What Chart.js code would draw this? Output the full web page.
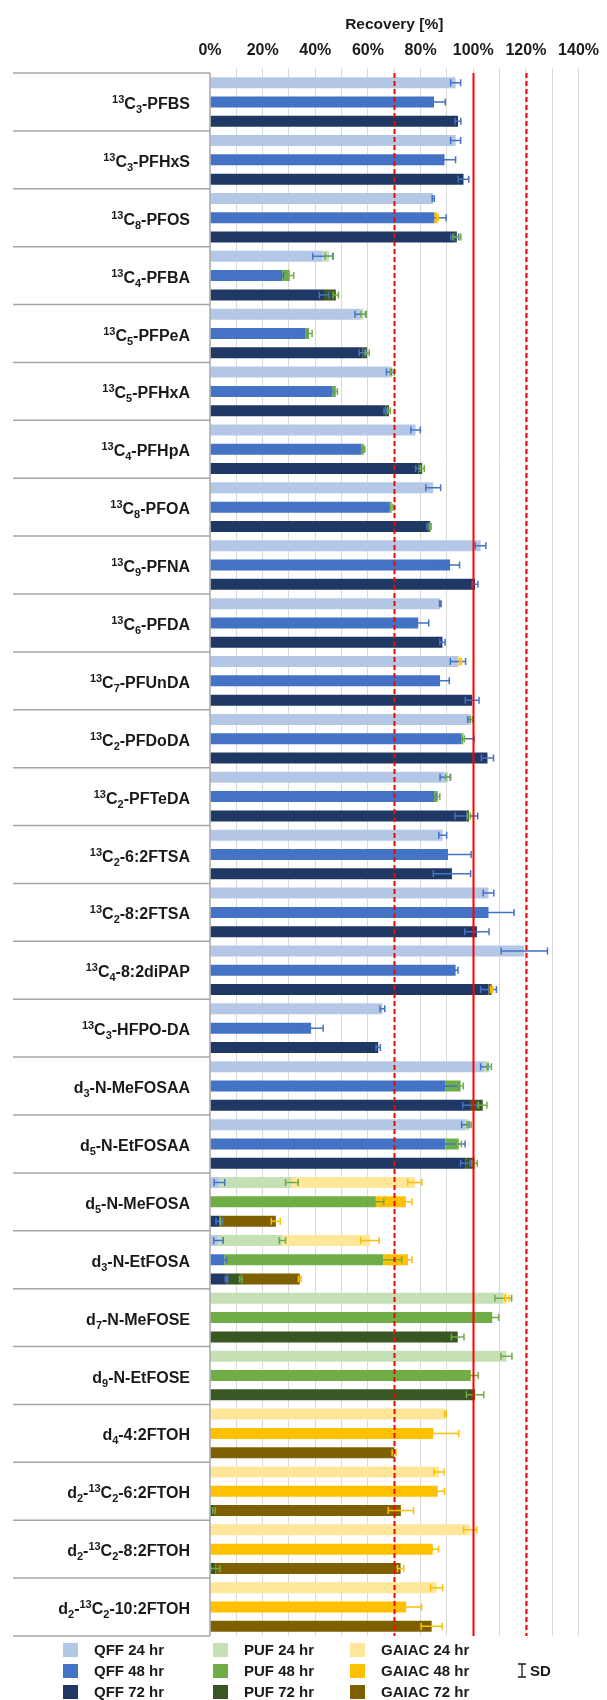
<!DOCTYPE html>
<html lang="en">
<head>
<meta charset="UTF-8">
<title>Recovery [%]</title>
<script src="https://cdn.jsdelivr.net/npm/chart.js"></script>
<style>
  html, body { margin: 0; padding: 0; background: #fff; }
  #wrap { width: 607px; height: 1700px; }
</style>
</head>
<body>
<div id="wrap"><canvas id="chart" width="607" height="1700"></canvas></div>
<script>
// categories (top to bottom)
const categories = [
  '¹³C₃-PFBS', '¹³C₃-PFHxS', '¹³C₈-PFOS', '¹³C₄-PFBA', '¹³C₅-PFPeA', '¹³C₅-PFHxA',
  '¹³C₄-PFHpA', '¹³C₈-PFOA', '¹³C₉-PFNA', '¹³C₆-PFDA', '¹³C₇-PFUnDA', '¹³C₂-PFDoDA',
  '¹³C₂-PFTeDA', '¹³C₂-6:2FTSA', '¹³C₂-8:2FTSA', '¹³C₄-8:2diPAP', '¹³C₃-HFPO-DA',
  'd₃-N-MeFOSAA', 'd₅-N-EtFOSAA', 'd₅-N-MeFOSA', 'd₃-N-EtFOSA', 'd₇-N-MeFOSE',
  'd₉-N-EtFOSE', 'd₄-4:2FTOH', 'd₂-¹³C₂-6:2FTOH', 'd₂-¹³C₂-8:2FTOH', 'd₂-¹³C₂-10:2FTOH'
];

// recovery (%) per sampler and exposure time, with SD
const qff24   = [93.3, 93.3, 84.8, 42.8, 57.1, 68.0, 78.1, 84.8, 102.8, 87.5, 94.2, 98.4, 89.4, 88.4, 105.8, 119.4, 65.5, 104.2, 97.0, 3.6, 3.2, 0, 0, 0, 0, 0, 0];
const qff24Sd = [1.9, 1.9, 0.4, 3.8, 2.0, 1.0, 1.8, 2.8, 2.0, 0.3, 2.9, 0.5, 2.0, 1.5, 2.0, 8.8, 0.9, 1.4, 1.4, 2.0, 1.8, 0, 0, 0, 0, 0, 0];
const qff48   = [85.1, 89.1, 85.2, 27.4, 36.2, 46.5, 57.5, 68.0, 91.2, 79.1, 87.4, 95.5, 85.1, 90.4, 105.8, 93.3, 38.4, 89.4, 89.4, 0, 5.4, 0, 0, 0, 0, 0, 0];
const qff48Sd = [4.3, 4.2, 4.5, 0.5, 0.5, 0.5, 0.5, 0.5, 3.6, 4.0, 3.5, 4.8, 1.0, 8.8, 9.7, 0.9, 4.6, 5.0, 7.5, 0, 1.0, 0, 0, 0, 0, 0, 0];
const qff72   = [94.2, 96.3, 93.0, 43.3, 58.0, 66.7, 79.1, 82.9, 100.7, 88.3, 99.6, 105.4, 97.4, 91.9, 101.4, 105.8, 63.9, 98.8, 97.0, 3.6, 6.3, 0, 0, 0, 0, 0, 0];
const qff72Sd = [1.1, 2.0, 1.5, 1.8, 1.3, 0.6, 1.0, 0.5, 1.1, 1.0, 2.6, 2.3, 4.3, 7.1, 4.6, 3.0, 0.8, 2.8, 1.8, 1.3, 0.5, 0, 0, 0, 0, 0, 0];

const puf24   = [0, 0, 0, 2.5, 1.2, 1.2, 0, 0, 0, 0, 0, 0.9, 1.0, 0, 0, 0, 0, 1.9, 1.4, 27.5, 24.3, 111.4, 112.6, 0, 0, 0, 0];
const puf24Sd = [0, 0, 0, 1.5, 1.0, 0.8, 0, 0, 0, 0, 0, 0.5, 0.8, 0, 0, 0, 0, 0.8, 0.8, 2.4, 1.2, 3.2, 2.1, 0, 0, 0, 0];
const puf48   = [0, 0, 0, 2.9, 1.4, 1.3, 0.9, 1.0, 0, 0, 0, 0.7, 1.4, 0, 0, 0, 0, 5.8, 5.1, 63.0, 60.4, 107.2, 99.1, 0, 0, 0, 0];
const puf48Sd = [0, 0, 0, 1.5, 1.2, 0.6, 0.4, 0.5, 0, 0, 0, 0.4, 0.8, 0, 0, 0, 0, 1.0, 1.0, 3.0, 7.0, 2.5, 2.8, 0, 0, 0, 0];
const puf72   = [0, 0, 0.8, 4.5, 1.7, 1.3, 1.5, 0.8, 0, 0, 0, 0, 1.0, 0, 0, 0, 0, 4.8, 3.5, 0.3, 5.4, 94.1, 100.7, 0, 1.5, 2.0, 0];
const puf72Sd = [0, 0, 1.5, 1.0, 0.8, 0.5, 0.8, 0.3, 0, 0, 0, 0, 0.5, 0, 0, 0, 0, 1.6, 1.0, 0.2, 0.5, 2.4, 3.3, 0, 0.5, 1.8, 0];

const gaiac24   = [0, 0, 0, 0, 0, 0, 0, 0, 0, 0, 1.0, 0, 0, 0, 0, 0, 0, 0, 0, 46.7, 33.3, 1.4, 0, 89.4, 87.0, 98.8, 86.1];
const gaiac24Sd = [0, 0, 0, 0, 0, 0, 0, 0, 0, 0, 0.3, 0, 0, 0, 0, 0, 0, 0, 0, 2.7, 3.5, 0.8, 0, 0.3, 1.9, 2.5, 2.3];
const gaiac48   = [0, 0, 1.2, 0, 0, 0, 0, 0, 0, 0, 0, 0, 0, 0, 0, 0, 0, 0, 0, 11.4, 9.4, 0, 0, 84.8, 86.5, 84.6, 74.5];
const gaiac48Sd = [0, 0, 0.3, 0, 0, 0, 0, 0, 0, 0, 0, 0, 0, 0, 0, 0, 0, 0, 0, 2.3, 1.5, 0, 0, 9.7, 2.6, 2.2, 5.9];
const gaiac72   = [0, 0, 0, 0, 0, 0, 0, 0, 0, 0, 0, 0, 0, 0, 0, 1.2, 0, 0, 0, 21.1, 22.4, 0, 0, 69.9, 71.0, 70.4, 84.2];
const gaiac72Sd = [0, 0, 0, 0, 0, 0, 0, 0, 0, 0, 0, 0, 0, 0, 0, 0.4, 0, 0, 0, 1.7, 0.5, 0, 0, 0.7, 4.8, 1.2, 4.0];

const xTicks = [0, 20, 40, 60, 80, 100, 120, 140];
const refLines = [{ v: 70, dash: [5, 3] }, { v: 100, dash: [] }, { v: 120, dash: [5, 3] }];

const colors = {
  QFF:   ['#b4c7e7', '#4472c4', '#203864'],
  PUF:   ['#c5e0b4', '#70ad47', '#385723'],
  GAIAC: ['#ffe699', '#ffc000', '#7f6000']
};
const errColors = { QFF: '#4472c4', PUF: '#70ad47', GAIAC: '#ffc000' };

const FAMILY = '"Liberation Sans", Arial, sans-serif';
Chart.defaults.font.family = FAMILY;
Chart.defaults.color = '#1a1a1a';

const series = [
  ['QFF', 0, qff24, qff24Sd], ['QFF', 1, qff48, qff48Sd], ['QFF', 2, qff72, qff72Sd],
  ['PUF', 0, puf24, puf24Sd], ['PUF', 1, puf48, puf48Sd], ['PUF', 2, puf72, puf72Sd],
  ['GAIAC', 0, gaiac24, gaiac24Sd], ['GAIAC', 1, gaiac48, gaiac48Sd], ['GAIAC', 2, gaiac72, gaiac72Sd]
];
const hours = ['24', '48', '72'];

const datasets = series.map(([m, t, data, sd]) => ({
  label: m + ' ' + hours[t] + ' hr',
  data: data,
  sd: sd,
  material: m,
  stack: 't' + hours[t],
  backgroundColor: colors[m][t],
  borderWidth: 0,
  barPercentage: 0.57,
  categoryPercentage: 1.0
}));

// split label into normal / superscript / subscript runs
const SUP = '⁰¹²³⁴⁵⁶⁷⁸⁹', SUB = '₀₁₂₃₄₅₆₇₈₉';
function runs(label) {
  const out = [];
  for (const ch of label) {
    let kind = 'n', c = ch;
    if (SUP.includes(ch)) { kind = 'sup'; c = String(SUP.indexOf(ch)); }
    else if (SUB.includes(ch)) { kind = 'sub'; c = String(SUB.indexOf(ch)); }
    if (out.length && out[out.length - 1].kind === kind) out[out.length - 1].text += c;
    else out.push({ kind, text: c });
  }
  return out;
}

const decor = {
  id: 'decor',
  afterDatasetsDraw(chart) {
    const ctx = chart.ctx, xs = chart.scales.x, area = chart.chartArea;
    const ppu = xs.getPixelForValue(1) - xs.getPixelForValue(0);

    // error bars (SD)
    chart.data.datasets.forEach((ds, di) => {
      const meta = chart.getDatasetMeta(di);
      ds.data.forEach((v, j) => {
        if (!v) return;
        const el = meta.data[j];
        const s = ds.sd[j] * ppu;
        const x0 = el.x - s, x1 = el.x + s, y = el.y, h = 3.5;
        ctx.save();
        ctx.strokeStyle = errColors[ds.material];
        ctx.lineWidth = 1.5;
        ctx.beginPath();
        ctx.moveTo(x0, y); ctx.lineTo(x1, y);
        ctx.moveTo(x0, y - h); ctx.lineTo(x0, y + h);
        ctx.moveTo(x1, y - h); ctx.lineTo(x1, y + h);
        ctx.stroke();
        ctx.restore();
      });
    });

    // reference lines
    refLines.forEach(r => {
      const x = Math.round(xs.getPixelForValue(r.v)) + 0.5;
      ctx.save();
      ctx.strokeStyle = '#ff0000';
      ctx.lineWidth = 2;
      ctx.setLineDash(r.dash);
      ctx.beginPath();
      ctx.moveTo(x, area.top);
      ctx.lineTo(x, area.bottom);
      ctx.stroke();
      ctx.restore();
    });
  },
  afterDraw(chart) {
    const ctx = chart.ctx, ys = chart.scales.y, area = chart.chartArea;
    const n = categories.length;
    const step = (area.bottom - area.top) / n;

    ctx.save();
    ctx.strokeStyle = '#a6a6a6';
    ctx.lineWidth = 1.5;
    ctx.beginPath();
    for (let i = 0; i <= n; i++) {
      const y = area.top + i * step;
      ctx.moveTo(13, y); ctx.lineTo(area.left, y);
    }
    ctx.moveTo(area.left, area.top); ctx.lineTo(area.left, area.bottom);
    ctx.stroke();

    // category labels with super/subscripts
    ctx.fillStyle = '#1a1a1a';
    ctx.textBaseline = 'alphabetic';
    ctx.textAlign = 'left';
    categories.forEach((lab, i) => {
      const y = ys.getPixelForValue(i) + 7;
      const parts = runs(lab);
      let x = 190;
      for (let k = parts.length - 1; k >= 0; k--) {
        const p = parts[k];
        ctx.font = 'bold ' + (p.kind === 'n' ? 16 : 11) + 'px ' + FAMILY;
        x -= ctx.measureText(p.text).width;
        const dy = p.kind === 'sup' ? -6 : p.kind === 'sub' ? 4 : 0;
        ctx.fillText(p.text, x, y + dy);
      }
    });

    // legend
    const colX = [63, 213, 350], rowY = [1650, 1671, 1692];
    ctx.font = 'bold 15px ' + FAMILY;
    ctx.textBaseline = 'middle';
    chart.data.datasets.forEach((ds, di) => {
      const c = Math.floor(di / 3), r = di % 3;
      ctx.fillStyle = ds.backgroundColor;
      ctx.fillRect(colX[c], rowY[r] - 7, 15, 14);
      ctx.fillStyle = '#1a1a1a';
      ctx.fillText(ds.label, colX[c] + 31, rowY[r] + 1);
    });
    // SD symbol
    ctx.strokeStyle = '#1a1a1a';
    ctx.lineWidth = 1.3;
    ctx.beginPath();
    ctx.moveTo(522, 1664); ctx.lineTo(522, 1677);
    ctx.moveTo(518, 1664); ctx.lineTo(526, 1664);
    ctx.moveTo(518, 1677); ctx.lineTo(526, 1677);
    ctx.stroke();
    ctx.fillText('SD', 530, rowY[1] + 1);
    ctx.restore();
  }
};

new Chart(document.getElementById('chart'), {
  type: 'bar',
  data: { labels: categories, datasets: datasets },
  options: {
    indexAxis: 'y',
    responsive: false,
    animation: false,
    devicePixelRatio: 1,
    layout: { padding: { left: 0, right: 24, top: 0, bottom: 64 } },
    plugins: { legend: { display: false }, tooltip: { enabled: false } },
    scales: {
      x: {
        position: 'top',
        stacked: true,
        min: 0,
        max: 140,
        afterFit: s => { s.height = 73; },
        border: { display: false },
        grid: {
          color: c => (c.tick && c.tick.value === 0) ? 'rgba(0,0,0,0)' : '#d9d9d9',
          lineWidth: 1,
          tickLength: 5
        },
        ticks: {
          stepSize: 10,
          autoSkip: false,
          maxRotation: 0,
          padding: 8,
          font: { size: 16, weight: 'bold' },
          color: '#1a1a1a',
          callback: v => xTicks.includes(v) ? v + '%' : ''
        },
        title: {
          display: true,
          text: 'Recovery [%]',
          padding: { top: 15, bottom: 0 },
          font: { size: 15.5, weight: 'bold' },
          color: '#1a1a1a'
        }
      },
      y: {
        stacked: true,
        afterFit: s => { s.width = 210; },
        border: { display: false },
        grid: { display: false },
        ticks: { display: false }
      }
    }
  },
  plugins: [decor]
});
</script>
</body>
</html>
